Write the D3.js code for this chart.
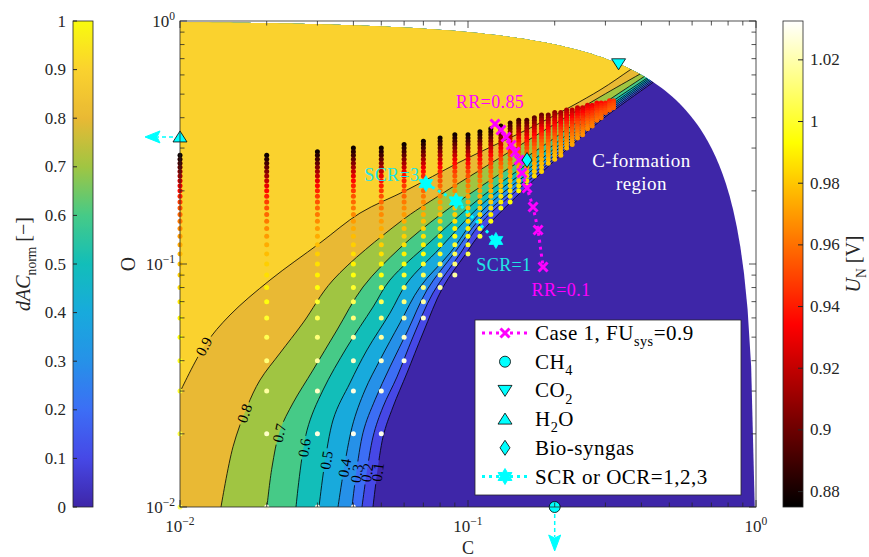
<!DOCTYPE html>
<html>
<head>
<meta charset="utf-8">
<script src="https://cdn.jsdelivr.net/npm/d3@7/dist/d3.min.js"></script>
<style>
  body { margin: 0; background: #fff; }
  svg { display: block; font-family: "Liberation Serif", "Times New Roman", serif; }
</style>
</head>
<body>
<svg id="chart" width="869" height="557"></svg>
<script>
// ---- contour lines of dAC_norm, [C, O] pairs
const contour01 = [[0.04678,0.0100],[0.05068,0.0194],[0.05489,0.0258],[0.06139,0.0356],[0.06979,0.0520],[0.08190,0.0804],[0.09763,0.1089],[0.1101,0.1329],[0.1778,0.2346],[0.2873,0.3876],[0.4354,0.5557]];
const contour02 = [[0.04285,0.0100],[0.04678,0.0194],[0.05068,0.0258],[0.05667,0.0343],[0.06442,0.0501],[0.07559,0.0760],[0.09380,0.1100],[0.1101,0.1461],[0.1778,0.2414],[0.2873,0.3950],[0.4319,0.5610]];
const contour03 = [[0.03956,0.0100],[0.04319,0.0202],[0.04754,0.0276],[0.05359,0.0377],[0.06189,0.0535],[0.07205,0.0782],[0.09014,0.1120],[0.1101,0.1532],[0.1778,0.2484],[0.2873,0.4026],[0.4285,0.5663]];
const contour04 = [[0.03537,0.0100],[0.03956,0.0213],[0.04389,0.0303],[0.04948,0.0403],[0.05805,0.0572],[0.06813,0.0804],[0.08660,0.1110],[0.1101,0.1622],[0.1778,0.2579],[0.2873,0.4103],[0.4251,0.5717]];
const contour05 = [[0.03039,0.0100],[0.03399,0.0228],[0.03893,0.0324],[0.04460,0.0443],[0.05359,0.0628],[0.06139,0.0835],[0.07996,0.1163],[0.1101,0.1733],[0.1778,0.2679],[0.2873,0.4181],[0.4217,0.5771]];
const contour06 = [[0.02528,0.0100],[0.02761,0.0207],[0.03138,0.0303],[0.03801,0.0455],[0.04678,0.0665],[0.05359,0.0859],[0.07380,0.1231],[0.1101,0.1869],[0.1778,0.2809],[0.2873,0.4302],[0.4184,0.5826]];
const contour07 = [[0.02004,0.0100],[0.02087,0.0146],[0.02225,0.0207],[0.02469,0.0268],[0.02896,0.0366],[0.03509,0.0535],[0.04319,0.0804],[0.05805,0.1163],[0.07996,0.1591],[0.1101,0.2074],[0.1778,0.3001],[0.2873,0.4468],[0.4118,0.5937]];
const contour08 = [[0.01388,0.0100],[0.01528,0.0177],[0.01709,0.0258],[0.01896,0.0333],[0.02225,0.0430],[0.02673,0.0572],[0.03399,0.0859],[0.05805,0.1489],[0.07996,0.1923],[0.1101,0.2436],[0.1778,0.3460],[0.2873,0.4870],[0.3956,0.6050]];
const contour09 = [[0.0100,0.0297],[0.01221,0.0464],[0.01492,0.0617],[0.02054,0.0859],[0.03063,0.1220],[0.04217,0.1620],[0.06139,0.2016],[0.09380,0.2630],[0.1778,0.3804],[0.2873,0.5200],[0.3650,0.6286]];
const contourLevels = [0.1, 0.2, 0.3, 0.4, 0.5, 0.6, 0.7, 0.8, 0.9];
const contourLabelAt = [[0.0487,0.0139],[0.0439,0.0139],[0.0399,0.0138],[0.0359,0.0146],[0.0319,0.0156],[0.0272,0.0175],[0.0219,0.0202],[0.01655,0.0244],[0.01221,0.0455]];

// ---- operating points: columns of constant C, O stepping down by 0.01 from the top, U_N in mV
const colC = [0.01,0.02,0.03,0.04,0.05,0.06,0.07,0.08,0.09,0.10,0.11,0.12,0.13,0.14,0.15,0.16,0.17,0.18,0.19,0.20,0.21,0.22,0.23,0.24,0.25,0.26,0.27,0.28,0.29,0.30,0.31,0.32];
const colOTop = [0.28,0.28,0.29,0.30,0.30,0.31,0.32,0.33,0.34,0.34,0.35,0.36,0.37,0.38,0.39,0.39,0.40,0.41,0.41,0.42,0.42,0.43,0.43,0.44,0.44,0.45,0.45,0.46,0.46,0.46,0.47,0.47];
const colUN = [
  [878,884,890,897,905,913,921,929,936,942,948,953,958,962,966,970,973,976,979,982,985,988,991,994,997,1000,1003,1008],
  [878,884,890,897,905,913,921,929,936,942,948,953,958,962,966,970,974,978,982,986,990,995,1000,1006,1012,1018,1024,1028],
  [878,884,890,897,905,913,921,929,936,942,948,953,958,962,966,970,974,978,982,986,990,995,1000,1006,1012,1018,1024,1028,1030],
  [878,884,890,897,905,913,921,929,936,942,948,953,958,962,966,970,974,978,982,986,990,995,1000,1006,1012,1018,1024,1028,1030,1031],
  [878,884,890,897,905,913,921,929,936,942,948,953,958,962,966,970,974,978,982,986,990,995,1000,1006,1012,1018,1024,1028,1030],
  [878,884,890,897,905,913,921,929,936,942,948,953,958,962,966,970,974,978,982,986,990,995,1000,1006,1012,1018,1024,1028],
  [878,884,890,897,905,913,921,929,936,942,948,953,958,962,966,970,974,978,982,986,990,995,1000,1006,1012,1018,1024],
  [878,884,890,897,905,913,921,929,936,942,948,953,958,962,966,970,974,978,982,986,990,995,1000,1006,1012,1018],
  [878,884,890,897,905,913,921,929,936,942,948,953,958,962,966,970,974,978,982,986,990,995,1000,1006,1012,1018],
  [878,884,890,897,905,913,921,929,936,942,948,953,958,962,966,970,974,978,982,986,990,995,1000,1006],
  [878,884,890,897,905,913,921,929,936,942,948,953,958,962,966,970,974,978,982,986,990,995,1000],
  [878,884,890,897,905,913,921,929,936,942,948,953,958,962,966,970,974,978,982,986,990,995],
  [882,888,894,901,909,917,925,932,939,945,951,956,961,966,970,974,978,982,986,990,995],
  [886,892,898,905,912,920,928,935,941,947,952,957,962,966,970,974,978,982,986,990,994],
  [890,896,902,909,916,924,931,938,944,949,954,959,963,967,971,975,979,983,987,991],
  [893,899,905,912,919,926,933,939,945,950,955,960,964,968,972,976,980,984,988],
  [896,902,908,915,922,929,935,941,947,952,957,961,965,969,973,977,981,985],
  [900,906,912,918,925,932,938,944,949,954,958,962,966,970,974,977,980,983],
  [904,910,916,922,929,935,941,946,951,956,960,964,968,972,976,980],
  [908,913,919,925,931,937,942,947,952,957,961,965,969,973,977,980],
  [912,917,923,929,935,940,945,950,955,959,963,967,971,975,978],
  [915,920,926,932,937,942,947,952,956,960,964,968,972,975],
  [918,923,929,934,939,944,949,953,957,961,965,969,972],
  [921,926,931,936,941,946,950,954,958,962,966,969],
  [924,929,934,939,944,948,952,956,960,964,967],
  [927,932,937,942,946,950,954,958,962,965],
  [930,935,940,944,948,952,956,960,963],
  [933,938,942,946,950,954,957,960],
  [936,941,945,949,953,956,959],
  [939,943,947,951,954],
  [942,946,950,953,956],
  [945,949,952,955]
];

// ---- Case 1 (FU_sys = 0.9), RR from 0.85 down to 0.1
const rrC = [0.1241,0.1302,0.1355,0.1411,0.1457,0.1504,0.1540,0.1603,0.1682,0.1751,0.1822];
const rrO = [0.3768,0.3558,0.3331,0.3089,0.2890,0.2679,0.2368,0.2055,0.1716,0.1380,0.0972];
// ---- methane + steam, SCR = 3, 2, 1
const scrC = [0.0714, 0.0909, 0.1250];
const scrO = [0.2143, 0.1818, 0.1250];
// ---- pure species and bio-syngas (CH4 and H2O shown at the axis limit)
const speciesC = [0.2000, 0.3333, 0.0100, 0.1603];
const speciesO = [0.0100, 0.6667, 0.3333, 0.2679];

const dacTicks = [0, 0.1, 0.2, 0.3, 0.4, 0.5, 0.6, 0.7, 0.8, 0.9, 1];
const unTicks = [0.88, 0.90, 0.92, 0.94, 0.96, 0.98, 1.00, 1.02];
const unRange = [0.875, 1.0326];
const parulaStops = [[62,38,168],[70,72,230],[60,110,245],[38,145,232],[24,170,220],[18,190,185],[70,202,135],[160,197,66],[233,185,52],[250,210,46],[249,251,14]];

// ---------------------------------------------------------------
const W = 869, H = 557;
const svg = d3.select("#chart");
const defs = svg.append("defs");
const plot = {left: 180, right: 756, top: 21, bottom: 507};
const x = d3.scaleLog().domain([0.01, 1]).range([plot.left, plot.right]);
const y = d3.scaleLog().domain([0.01, 1]).range([plot.bottom, plot.top]);

const parula = d3.scaleLinear()
  .domain(parulaStops.map((d, i) => i / 10))
  .range(parulaStops.map(c => d3.rgb(c[0], c[1], c[2])))
  .interpolate(d3.interpolateRgb);
function hot(t) {
  t = Math.max(0, Math.min(1, t));
  const r = Math.min(1, t / 0.375);
  const g = Math.max(0, Math.min(1, (t - 0.375) / 0.375));
  const b = Math.max(0, (t - 0.75) / 0.25);
  return d3.rgb(r * 255, g * 255, b * 255).toString();
}
const unT = d3.scaleLinear().domain(unRange).range([0, 1]);

// text with italic / sub / sup pieces
function rich(t, parts, size) {
  let shift = 0;
  parts.forEach(([s, mode]) => {
    const ts = t.append("tspan").text(s);
    const target = mode === "sub" ? size * 0.3 : mode === "sup" ? -size * 0.42 : 0;
    ts.attr("dy", target - shift);
    shift = target;
    if (mode === "sub" || mode === "sup") ts.attr("font-size", size * 0.68);
    if (mode === "it") ts.attr("font-style", "italic");
  });
  return t;
}

// feasible region: C + O <= 1
const edgeC = d3.range(0, 161).map(i => 0.01 * Math.pow(99, i / 160));
const domainPts = [[0.01, 0.01], ...edgeC.map(c => [c, 1 - c]), [0.99, 0.01]];
defs.append("clipPath").attr("id", "dom")
  .append("path").attr("d", "M" + domainPts.map(([c, o]) => [x(c), y(o)]).join("L") + "Z");

const contours = [contour01, contour02, contour03, contour04, contour05, contour06, contour07, contour08, contour09]
  .map((pts, i) => ({level: contourLevels[i], pts}));

const lineGen = d3.line().curve(d3.curveCatmullRom.alpha(0.5));
contours.forEach(d => {
  const px = d.pts.map(([c, o]) => [x(c), y(o)]);
  d.raw = px.slice();
  const n = px.length;
  const [ax, ay] = px[n - 2], [bx, by] = px[n - 1];
  const len = Math.hypot(bx - ax, by - ay);
  px.push([bx + (bx - ax) / len * 25, by + (by - ay) / len * 25]);
  d.px = px;
});

// label placement: snap to nearest point of the line, follow its direction
contours.forEach((d, i) => {
  const p = [x(contourLabelAt[i][0]), y(contourLabelAt[i][1])];
  let best = null;
  for (let k = 0; k < d.raw.length - 1; k++) {
    const [ax, ay] = d.raw[k], [bx, by] = d.raw[k + 1];
    const dx = bx - ax, dy = by - ay;
    let t = ((p[0] - ax) * dx + (p[1] - ay) * dy) / (dx * dx + dy * dy);
    t = Math.max(0, Math.min(1, t));
    const qx = ax + t * dx, qy = ay + t * dy;
    const dist = Math.hypot(qx - p[0], qy - p[1]);
    if (!best || dist < best.dist) best = {dist, qx, qy, ang: Math.atan2(dy, dx) * 180 / Math.PI};
  }
  d.label = best;
});

const mask = defs.append("mask").attr("id", "lblmask")
  .attr("maskUnits", "userSpaceOnUse").attr("x", 0).attr("y", 0).attr("width", W).attr("height", H);
mask.append("rect").attr("width", W).attr("height", H).attr("fill", "white");
contours.forEach(d => {
  mask.append("rect").attr("x", -12).attr("y", -6).attr("width", 24).attr("height", 12).attr("fill", "black")
    .attr("transform", `translate(${d.label.qx},${d.label.qy}) rotate(${d.label.ang})`);
});

// ---- filled contours
const field = svg.append("g").attr("clip-path", "url(#dom)");
field.append("rect").attr("x", plot.left).attr("y", plot.top)
  .attr("width", plot.right - plot.left).attr("height", plot.bottom - plot.top)
  .attr("fill", parula(0));
field.selectAll("path.band").data(contours).join("path").attr("class", "band")
  .attr("d", d => lineGen(d.px) + `L${W + 50},-50L-50,-50L-50,${H + 50}L${d.px[0][0]},${H + 50}Z`)
  .attr("fill", d => parula(d.level)).attr("stroke", "none");
field.append("g").attr("mask", "url(#lblmask)")
  .selectAll("path.cl").data(contours).join("path").attr("class", "cl")
  .attr("d", d => lineGen(d.px)).attr("fill", "none").attr("stroke", "#000").attr("stroke-width", 0.8);

svg.append("g").selectAll("text").data(contours).join("text")
  .attr("transform", d => `translate(${d.label.qx},${d.label.qy}) rotate(${d.label.ang})`)
  .attr("text-anchor", "middle").attr("dy", "0.33em")
  .attr("font-size", 15).attr("fill", "#000")
  .text(d => d.level.toFixed(1));

// ---- operating points
const dots = [];
colC.forEach((c, i) => colUN[i].forEach((mv, k) => {
  dots.push({c, o: (Math.round(colOTop[i] * 100) - k) / 100, u: mv / 1000});
}));
svg.append("g").selectAll("circle").data(dots).join("circle")
  .attr("cx", d => x(d.c)).attr("cy", d => y(d.o)).attr("r", 2.5)
  .attr("fill", d => hot(unT(d.u)));

// ---- marker shapes
const cyan = "#00ffff", magenta = "#ff00ff";
function hexagram(R) {
  const r = R / Math.sqrt(3);
  const pts = d3.range(12).map(i => {
    const a = -Math.PI / 2 + i * Math.PI / 6, rr = i % 2 === 0 ? R : r;
    return [rr * Math.cos(a), rr * Math.sin(a)];
  });
  return "M" + pts.join("L") + "Z";
}
const shapes = {
  circle: "M5.5,0A5.5,5.5,0,1,1,-5.5,0A5.5,5.5,0,1,1,5.5,0Z",
  triDown: "M-7,-5L7,-5L0,6Z",
  triUp: "M-7,5L7,5L0,-6Z",
  diamond: "M0,-7.5L5,0L0,7.5L-5,0Z",
  cross: "M-4.5,-4.5L4.5,4.5M-4.5,4.5L4.5,-4.5",
  star: hexagram(8)
};

// SCR line
const scrPts = scrC.map((c, i) => [x(c), y(scrO[i])]);
svg.append("path").attr("d", d3.line()(scrPts)).attr("fill", "none")
  .attr("stroke", cyan).attr("stroke-width", 3).attr("stroke-dasharray", "3 4");
svg.append("g").selectAll("path").data(scrPts).join("path")
  .attr("transform", d => `translate(${d[0]},${d[1]})`).attr("d", shapes.star)
  .attr("fill", cyan).attr("stroke", cyan).attr("stroke-width", 0.8);

// Case 1 RR line
const rrPts = rrC.map((c, i) => [x(c), y(rrO[i])]);
svg.append("path").attr("d", d3.line()(rrPts)).attr("fill", "none")
  .attr("stroke", magenta).attr("stroke-width", 3).attr("stroke-dasharray", "3 4");
svg.append("g").selectAll("path").data(rrPts).join("path")
  .attr("transform", d => `translate(${d[0]},${d[1]})`).attr("d", shapes.cross)
  .attr("fill", "none").attr("stroke", magenta).attr("stroke-width", 3);

// species markers and arrows
const spShapes = [shapes.circle, shapes.triDown, shapes.triUp, shapes.diamond];
const spPts = speciesC.map((c, i) => [x(c), y(speciesO[i])]);
// H2O lies at C = 0: arrow to the left
const [hx, hy] = spPts[2];
svg.append("line").attr("x1", hx - 7).attr("y1", hy).attr("x2", hx - 22).attr("y2", hy)
  .attr("stroke", cyan).attr("stroke-width", 1.5).attr("stroke-dasharray", "4 3");
svg.append("path").attr("d", `M${hx - 35},${hy}L${hx - 20},${hy - 6}L${hx - 23},${hy}L${hx - 20},${hy + 6}Z`)
  .attr("fill", cyan).attr("stroke", cyan).attr("stroke-width", 1);
// CH4 lies at O = 0: arrow downwards
const [mx, my] = spPts[0];
svg.append("line").attr("x1", mx).attr("y1", my + 7).attr("x2", mx).attr("y2", my + 30)
  .attr("stroke", cyan).attr("stroke-width", 1.5).attr("stroke-dasharray", "4 3");
svg.append("path").attr("d", `M${mx},${my + 44}L${mx - 6},${my + 28}L${mx},${my + 31}L${mx + 6},${my + 28}Z`)
  .attr("fill", cyan).attr("stroke", cyan).attr("stroke-width", 1);
svg.append("g").selectAll("path").data(spPts).join("path")
  .attr("transform", d => `translate(${d[0]},${d[1]})`).attr("d", (d, i) => spShapes[i])
  .attr("fill", cyan).attr("stroke", "#000").attr("stroke-width", 0.8);

// annotations
const ann = svg.append("g").attr("font-size", 18).attr("text-anchor", "middle").attr("letter-spacing", 0.4);
ann.append("text").attr("x", rrPts[0][0] - 5).attr("y", rrPts[0][1] - 16).attr("fill", magenta).text("RR=0.85");
ann.append("text").attr("x", rrPts[rrPts.length - 1][0] + 18).attr("y", rrPts[rrPts.length - 1][1] + 29).attr("fill", magenta).text("RR=0.1");
ann.append("text").attr("x", scrPts[0][0] - 34).attr("y", scrPts[0][1] - 3).attr("fill", "#22e4e4").text("SCR=3");
ann.append("text").attr("x", scrPts[2][0] + 8).attr("y", scrPts[2][1] + 31).attr("fill", "#22e4e4").text("SCR=1");
const cf = ann.append("text").attr("fill", "#fff").attr("font-size", 19);
cf.append("tspan").attr("x", x(0.40)).attr("y", y(0.25)).text("C-formation");
cf.append("tspan").attr("x", x(0.40)).attr("dy", 23).text("region");

// ---- axes box and ticks
const axc = "#262626";
const ax = svg.append("g").attr("stroke", axc).attr("stroke-width", 0.8);
ax.append("rect").attr("x", plot.left).attr("y", plot.top)
  .attr("width", plot.right - plot.left).attr("height", plot.bottom - plot.top).attr("fill", "none");
const majors = [0.01, 0.1, 1];
const minors = [];
[0.01, 0.1].forEach(b => d3.range(2, 10).forEach(k => minors.push(b * k)));
const tickSet = [...majors.map(v => ({v, L: 7})), ...minors.map(v => ({v, L: 4.5}))];
tickSet.forEach(({v, L}) => {
  ax.append("line").attr("x1", x(v)).attr("x2", x(v)).attr("y1", plot.bottom).attr("y2", plot.bottom - L);
  ax.append("line").attr("x1", x(v)).attr("x2", x(v)).attr("y1", plot.top).attr("y2", plot.top + L);
  ax.append("line").attr("y1", y(v)).attr("y2", y(v)).attr("x1", plot.left).attr("x2", plot.left + L);
  ax.append("line").attr("y1", y(v)).attr("y2", y(v)).attr("x1", plot.right).attr("x2", plot.right - L);
});
const expLabel = {0.01: "−2", 0.1: "−1", 1: "0"};
majors.forEach(v => {
  rich(svg.append("text").attr("x", x(v)).attr("y", 532).attr("text-anchor", "middle").attr("font-size", 17).attr("fill", axc),
    [["10", ""], [expLabel[v], "sup"]], 17);
  rich(svg.append("text").attr("x", 175).attr("y", y(v) + 6).attr("text-anchor", "end").attr("font-size", 17).attr("fill", axc),
    [["10", ""], [expLabel[v], "sup"]], 17);
});
svg.append("text").attr("x", (plot.left + plot.right) / 2).attr("y", 554).attr("text-anchor", "middle")
  .attr("font-size", 18).attr("fill", axc).text("C");
svg.append("text").attr("transform", `translate(135,${(plot.top + plot.bottom) / 2}) rotate(-90)`)
  .attr("text-anchor", "middle").attr("font-size", 20).attr("fill", axc).text("O");

// ---- legend
const lg = svg.append("g");
lg.append("rect").attr("x", 475).attr("y", 320).attr("width", 266).attr("height", 175)
  .attr("fill", "#fff").attr("stroke", axc).attr("stroke-width", 0.8);
const legendItems = [
  {parts: [["Case 1, FU", ""], ["sys", "sub"], ["=0.9", ""]], shape: "cross", line: magenta},
  {parts: [["CH", ""], ["4", "sub"]], shape: "circle"},
  {parts: [["CO", ""], ["2", "sub"]], shape: "triDown"},
  {parts: [["H", ""], ["2", "sub"], ["O", ""]], shape: "triUp"},
  {parts: [["Bio-syngas", ""]], shape: "diamond"},
  {parts: [["SCR or OCR=1,2,3", ""]], shape: "star", line: cyan}
];
legendItems.forEach((it, i) => {
  const cy = 333 + i * 28.7;
  if (it.line) {
    lg.append("line").attr("x1", 482).attr("x2", 528).attr("y1", cy).attr("y2", cy)
      .attr("stroke", it.line).attr("stroke-width", 3).attr("stroke-dasharray", "3 4");
  }
  const p = lg.append("path").attr("transform", `translate(505,${cy})`).attr("d", shapes[it.shape]);
  if (it.shape === "cross") p.attr("fill", "none").attr("stroke", magenta).attr("stroke-width", 3);
  else if (it.shape === "star") p.attr("fill", cyan).attr("stroke", cyan);
  else p.attr("fill", cyan).attr("stroke", "#000").attr("stroke-width", 0.8);
  rich(lg.append("text").attr("x", 535).attr("y", cy + 7).attr("font-size", 21).attr("letter-spacing", 0.5).attr("fill", "#000"), it.parts, 21);
});

// ---- colorbars
const cbY = d3.scaleLinear().domain([0, 1]).range([plot.bottom, plot.top]);
const gradL = defs.append("linearGradient").attr("id", "gparula").attr("x1", 0).attr("y1", 1).attr("x2", 0).attr("y2", 0);
d3.range(0, 101).forEach(i => gradL.append("stop").attr("offset", i / 100).attr("stop-color", parula(i / 100)));
svg.append("rect").attr("x", 73).attr("y", plot.top).attr("width", 20).attr("height", plot.bottom - plot.top)
  .attr("fill", "url(#gparula)").attr("stroke", axc).attr("stroke-width", 0.8);
dacTicks.forEach(v => {
  svg.append("line").attr("x1", 73).attr("x2", 77).attr("y1", cbY(v)).attr("y2", cbY(v)).attr("stroke", axc);
  svg.append("text").attr("x", 66).attr("y", cbY(v) + 5.5).attr("text-anchor", "end")
    .attr("font-size", 17).attr("fill", axc).text(v);
});
rich(svg.append("text").attr("transform", `translate(30,${(plot.top + plot.bottom) / 2}) rotate(-90)`)
  .attr("text-anchor", "middle").attr("font-size", 20).attr("fill", axc),
  [["dAC", "it"], ["norm", "sub"], [" [−]", ""]], 20);

const unY = d3.scaleLinear().domain(unRange).range([plot.bottom, plot.top]);
const gradR = defs.append("linearGradient").attr("id", "ghot").attr("x1", 0).attr("y1", 1).attr("x2", 0).attr("y2", 0);
d3.range(0, 129).forEach(i => gradR.append("stop").attr("offset", i / 128).attr("stop-color", hot(i / 128)));
svg.append("rect").attr("x", 783).attr("y", plot.top).attr("width", 20).attr("height", plot.bottom - plot.top)
  .attr("fill", "url(#ghot)").attr("stroke", axc).attr("stroke-width", 0.8);
unTicks.forEach(v => {
  svg.append("line").attr("x1", 803).attr("x2", 798).attr("y1", unY(v)).attr("y2", unY(v)).attr("stroke", axc);
  svg.append("text").attr("x", 810).attr("y", unY(v) + 5.5).attr("font-size", 17).attr("fill", axc)
    .text(+v.toFixed(2));
});
rich(svg.append("text").attr("transform", `translate(860,${(plot.top + plot.bottom) / 2}) rotate(-90)`)
  .attr("text-anchor", "middle").attr("font-size", 20).attr("fill", axc),
  [["U", "it"], ["N", "sub"], [" [V]", ""]], 20);
</script>
</body>
</html>
